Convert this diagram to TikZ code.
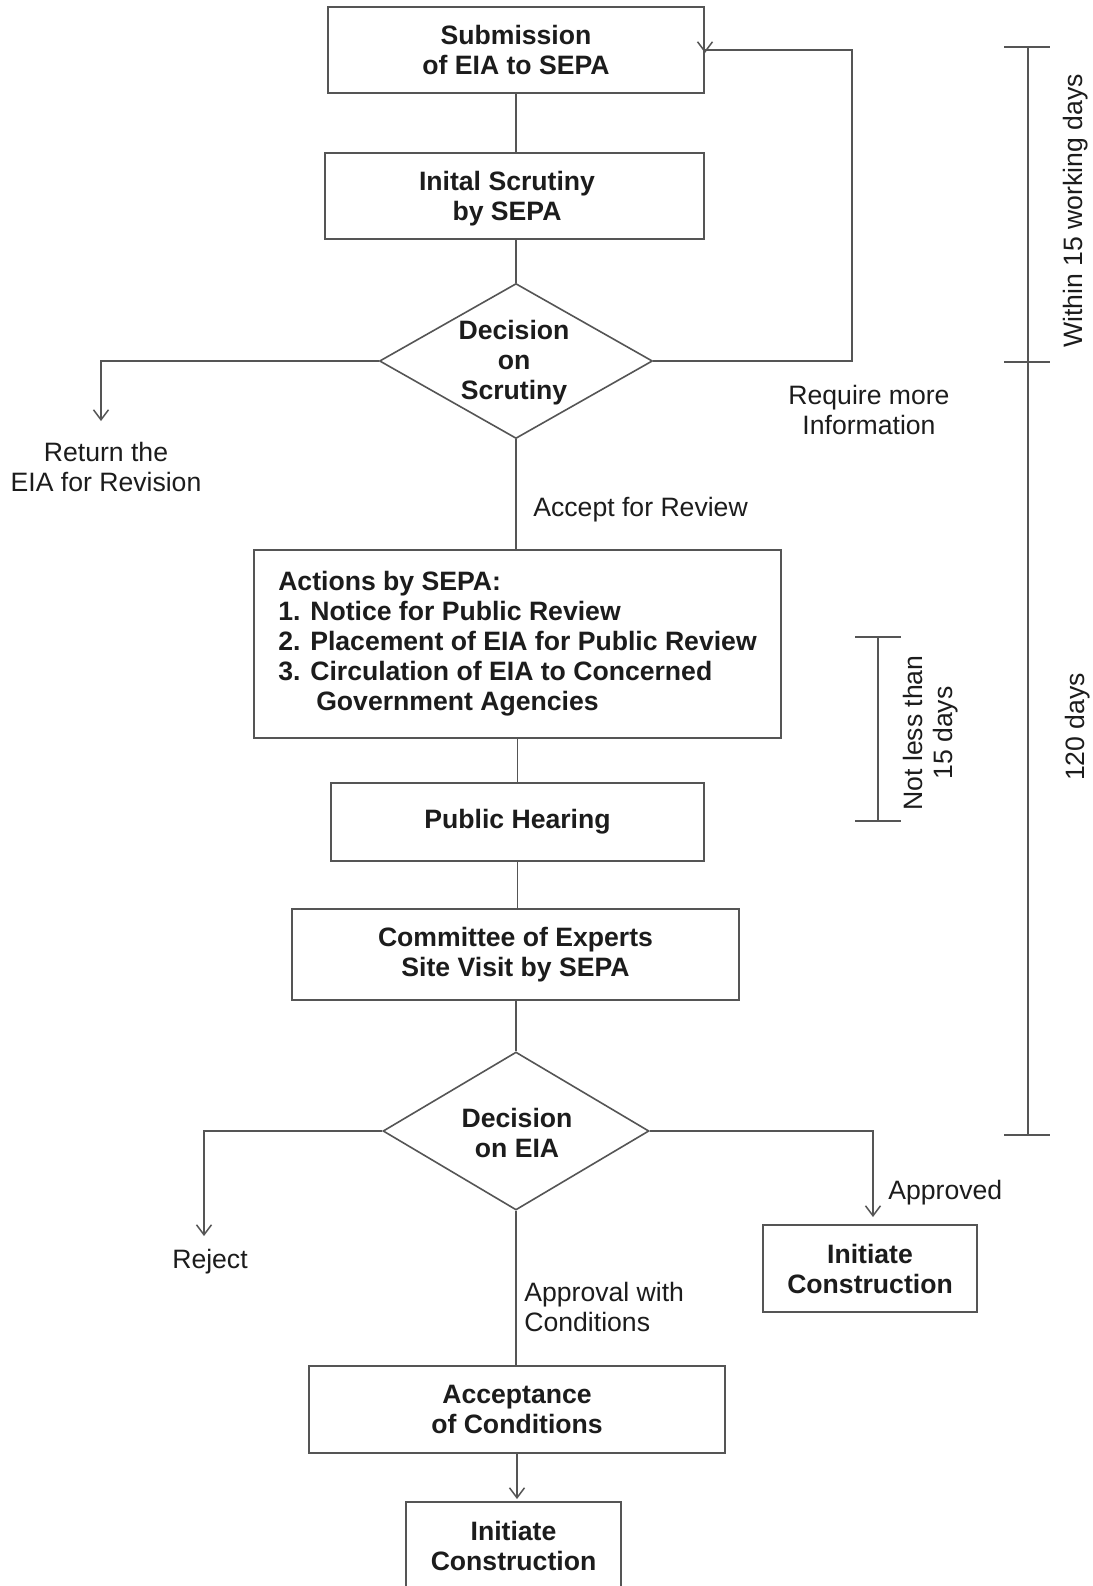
\documentclass[tikz,border=0pt]{standalone}
\usepackage{fontspec}
\setmainfont{Liberation Sans}
\usetikzlibrary{shapes.geometric,arrows.meta,calc}
\definecolor{linec}{HTML}{555555}
\definecolor{txt}{HTML}{1C1C1C}
\newcommand\boxfont{\bfseries\fontsize{13.3}{15}\selectfont}
\newcommand\lblfont{\fontsize{13.3}{15}\selectfont}
\tikzset{
  box/.style={draw=linec, line width=1pt, rectangle, inner sep=0pt, align=center, font=\boxfont, text=txt},
  dia/.style={draw=linec, line width=0.8pt, diamond, inner sep=0pt},
  btext/.style={inner sep=0pt, align=center, font=\boxfont, text=txt},
  lbl/.style={inner sep=0pt, align=center, font=\lblfont, text=txt},
  conn/.style={draw=linec, line width=0.75pt},
  arr/.style={conn, -{Straight Barb[length=5pt,width=7.5pt]}},
}
\begin{document}
\begin{tikzpicture}[x=0.5pt,y=-0.5pt]
\fill[white] (0,0) rectangle (1093,1586);
\clip (0,0) rectangle (1093,1586);

% boxes
\node[box, minimum width=188pt, minimum height=43pt] (b1) at (516,50) {Submission\\of EIA to SEPA};
\node[box, minimum width=189.5pt, minimum height=43pt] (b2) at (514.5,196) {};
\node[btext] (b2t) at (507,199) {Inital Scrutiny\\by SEPA};
\node[dia, minimum width=136.5pt, minimum height=77.5pt] (d1) at (516,361) {};
\node[btext] (d1t) at (514,363) {Decision\\on\\Scrutiny};
\node[box, align=left, minimum width=263.5pt, minimum height=94pt] (b3) at (517.5,644)
  {Actions by SEPA:\\1. Notice for Public Review\\2. Placement of EIA for Public Review\\3. Circulation of EIA to Concerned\\\hspace*{19pt}Government Agencies};
\node[box, minimum width=186.5pt, minimum height=39pt] (b4) at (517.5,822) {Public Hearing};
\node[box, minimum width=223.5pt, minimum height=45.5pt] (b5) at (515.5,954.5) {Committee of Experts\\Site Visit by SEPA};
\node[dia, minimum width=133pt, minimum height=79pt] (d2) at (516,1131) {};
\node[btext] (d2t) at (517,1133) {Decision\\on EIA};
\node[box, minimum width=107pt, minimum height=43.5pt] (b6) at (870,1268.5) {Initiate\\Construction};
\node[box, minimum width=208pt, minimum height=43.5pt] (b7) at (517,1409.5) {Acceptance\\of Conditions};
\node[box, minimum width=107.5pt, minimum height=44pt] (b8) at (513.5,1546) {Initiate\\Construction};

% labels
\node[lbl] (l1) at (106,467) {Return the\\EIA for Revision};
\node[lbl] (l2) at (869,410) {Require more\\Information};
\node[lbl, anchor=west] (l3) at (533,510) {Accept for Review};
\node[lbl] (l4) at (210,1262) {Reject};
\node[lbl, anchor=west] (l5) at (888,1193) {Approved};
\node[lbl, anchor=west, align=left] (l6) at (524,1307) {Approval with\\Conditions};
\node[lbl, rotate=90] (l7) at (1076,211) {Within 15 working days};
\node[lbl, rotate=90] (l8) at (1078,727) {120 days};
\node[lbl, rotate=90] (l9) at (931,733) {Not less than\\15 days};

% connectors
\coordinate (r1) at (101,421);
\coordinate (r2) at (204,1236);
\coordinate (c1) at (852,361);
\draw[conn] (b1.south) -- (b1.south |- b2.north);
\draw[conn] (b2.south -| d1.north) -- (d1.north);
\draw[arr] (d1.west) -| (r1);
\draw[arr] (d1.east) -- (c1) |- (b1.east) -- ++(0,3);
\draw[conn] (d1.south) -- (d1.south |- b3.north);
\draw[conn] (b3.south) -- (b3.south |- b4.north);
\draw[conn] (b4.south) -- (b4.south |- b5.north);
\draw[conn] (b5.south -| d2.north) -- (d2.north);
\draw[arr] (d2.west) -| (r2);
\draw[arr] (d2.east) -| ([xshift=1.5pt,yshift=3.5pt]b6.north);
\draw[conn] (d2.south) -- (d2.south |- b7.north);
\draw[arr] (b7.south) -- ([yshift=1pt]b7.south |- b8.north);

% time brackets
\draw[conn] (1028,47) -- (1028,1135);
\draw[conn] (1004,47) -- (1050,47);
\draw[conn] (1004,362) -- (1050,362);
\draw[conn] (1004,1135) -- (1050,1135);
\draw[conn] (878,637) -- (878,821);
\draw[conn] (855,637) -- (901,637);
\draw[conn] (855,821) -- (901,821);
\end{tikzpicture}
\end{document}
